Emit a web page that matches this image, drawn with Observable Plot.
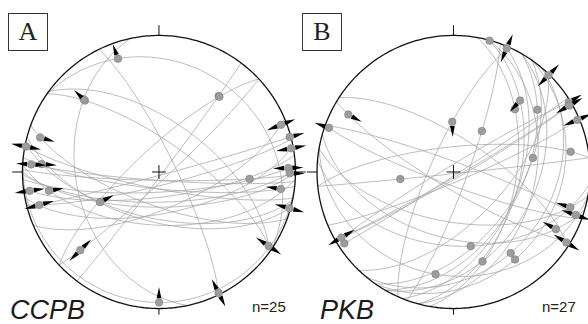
<!DOCTYPE html>
<html><head><meta charset="utf-8">
<script src="https://cdn.jsdelivr.net/npm/d3@7"></script>
<script src="https://cdn.jsdelivr.net/npm/@observablehq/plot@0.6"></script>
<style>
body{margin:0;background:#fff;}
#wrap{position:relative;width:588px;height:324px;overflow:hidden;}
.box{position:absolute;box-sizing:border-box;border:1px solid #333;font-family:"Liberation Serif","DejaVu Serif",serif;font-size:26px;color:#222;display:flex;align-items:center;justify-content:center;background:#fff;}
.site{position:absolute;font-family:"Liberation Sans",Arial,sans-serif;font-style:italic;font-size:27px;color:#1a1a1a;line-height:0.9;white-space:nowrap}
.n{position:absolute;font-family:"Liberation Sans",Arial,sans-serif;font-size:15px;color:#222;line-height:1;white-space:nowrap}
</style></head><body><div id="wrap"></div>
<script>
// ---- data ----
const panelLetters = ["A", "B"];
const siteNames = ["CCPB", "PKB"];
const counts = ["n=25", "n=27"];

// Panel A: fault planes (strike RHR, dip) and slip lineation (rake), sense of arrows
const strikeA = [110,101,94,102,83,93,76,67,75,79,91,87,89,96,105,90,304,305,168,37,227,306,334,95,47];
const dipA    = [70,80,85,62,75,58,82,68,88,65,85,78,72,80,60,69,21,72,39,88,76,60,80,5,85];
const rakeA   = [169,179,173,163,175,157,170,5,1,2,34,6,5,11,1,125,38,27,139,30,149,176,178.5,85,160];
const senseA  = ["in","both","both","in","both","in","both","both","out","both","","both","out","in","both","in","out","out","","","","both","both","in","both"];

// Panel B
const strikeB = [15,22,44,15,10,30,20,35,40,35,30,100,106,95,100,239,60,67,60,57,204,264,290,303,121,110,84];
const dipB    = [40,50,60,50,52,49,81.7,50.5,29,24,39.8,60,50,45,25,86,86,84,87,88,76,75,84,70,80,82,89];
const rakeB   = [0.5,2,1,39.6,48,33.4,61.2,57.5,103,108.3,124.7,13.4,20,77,90,178.4,2.5,1.8,174.5,175,117,165.5,174.3,177,166.6,176.4,122.3];
const senseB  = ["","both","both","in","","","","","","","","in","in","","","out","both","both","both","","in","","both","both","in","out",""];

// ---- geometry (lower hemisphere, equal area) ----
const deg = Math.PI / 180;
const panelShift = [0, 2.158]; // horizontal offset of panel B net, in net radii
function lineOnPlane(S, dip, rk) {
  const s = [Math.sin(S*deg), Math.cos(S*deg), 0];
  const d = [Math.cos(dip*deg)*Math.cos(S*deg), -Math.cos(dip*deg)*Math.sin(S*deg), Math.sin(dip*deg)];
  const c = Math.cos(rk*deg), sn = Math.sin(rk*deg);
  const e = c*s[0] + sn*d[0], n = c*s[1] + sn*d[1], dn = c*s[2] + sn*d[2];
  const k = 1 / Math.sqrt(1 + dn);
  return {X: e*k, Y: n*k, trend: Math.atan2(e, n) / deg};
}
const sets = [[strikeA, dipA, rakeA, senseA], [strikeB, dipB, rakeB, senseB]];
const circles = [], dots = [], arrows = [], prim = [], ticks = [], centers = [];
sets.forEach(([st, dp, rk, se], p) => {
  const ox = panelShift[p];
  st.forEach((S, i) => {
    for (let r = 0; r <= 180; r += 1.5) {
      const q = lineOnPlane(S, dp[i], r);
      circles.push({id: p + "-" + i, x: q.X + ox, y: q.Y});
    }
    const q = lineOnPlane(S, dp[i], rk[i]);
    dots.push({x: q.X + ox, y: q.Y});
    if (se[i] === "out" || se[i] === "both") arrows.push({x: q.X + ox, y: q.Y, rot: q.trend});
    if (se[i] === "in" || se[i] === "both") arrows.push({x: q.X + ox, y: q.Y, rot: q.trend + 180});
  });
  for (let a = 0; a <= 360; a += 1) prim.push({panel: p, x: Math.sin(a*deg) + ox, y: Math.cos(a*deg)});
  [[0, 1.075], [90, 1.075], [180, 1.045], [270, 1.075]].forEach(([a, L]) => {
    ticks.push({x1: Math.sin(a*deg) + ox, y1: Math.cos(a*deg), x2: L*Math.sin(a*deg) + ox, y2: L*Math.cos(a*deg)});
  });
  centers.push({x: ox, y: 0});
});

const arrowShape = {
  draw(ctx, l, r) {
    const g = 4.2;
    ctx.moveTo(-r, -g);
    ctx.lineTo(0, -g - l);
    ctx.lineTo(r, -g);
    ctx.closePath();
  }
};

const chart = Plot.plot({
  width: 588, height: 324,
  margin: 0,
  x: {domain: [-1.161, 3.147], axis: null},
  y: {domain: [-1.117, 1.256], axis: null},
  marks: [
    Plot.line(circles, {x: "x", y: "y", z: "id", stroke: "#a4a4a4", strokeWidth: 0.75}),
    Plot.line(prim, {x: "x", y: "y", z: "panel", stroke: "#111", strokeWidth: 1.3}),
    Plot.link(ticks, {x1: "x1", y1: "y1", x2: "x2", y2: "y2", stroke: "#111", strokeWidth: 1}),
    Plot.dot(centers, {x: "x", y: "y", symbol: "plus", r: 4.5, stroke: "#111", strokeWidth: 1}),
    Plot.dot(dots, {x: "x", y: "y", r: 3.8, fill: "#9d9d9d", stroke: "#808080", strokeWidth: 0.6}),
    Plot.vector(arrows, {x: "x", y: "y", rotate: "rot", length: 11, r: 2.4, anchor: "start", shape: arrowShape, fill: "#000", stroke: "none"})
  ]
});
const wrap = document.getElementById("wrap");
wrap.appendChild(chart);

const boxX = [8, 302], siteX = [10, 320], nX = [252, 542];
panelLetters.forEach((t, p) => {
  const b = document.createElement("div");
  b.className = "box"; b.textContent = t;
  Object.assign(b.style, {left: boxX[p] + "px", top: "13px", width: "40px", height: "38px"});
  wrap.appendChild(b);
  const s = document.createElement("div");
  s.className = "site"; s.textContent = siteNames[p];
  Object.assign(s.style, {left: siteX[p] + "px", top: "298px"});
  wrap.appendChild(s);
  const n = document.createElement("div");
  n.className = "n"; n.textContent = counts[p];
  Object.assign(n.style, {left: nX[p] + "px", top: "299px"});
  wrap.appendChild(n);
});
</script></body></html>
